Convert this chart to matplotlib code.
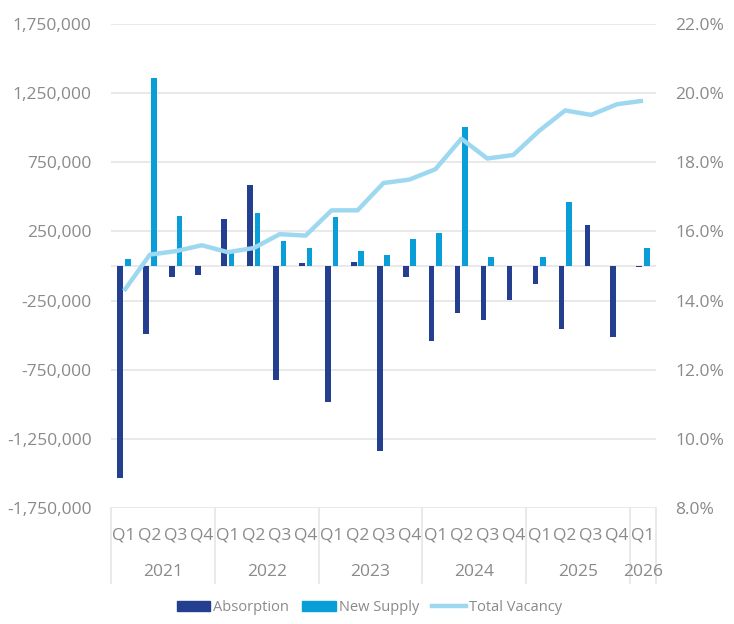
import matplotlib
matplotlib.use('Agg')
import matplotlib.pyplot as plt
import numpy as np
from matplotlib.lines import Line2D
from matplotlib.patches import Patch
from matplotlib.ticker import FuncFormatter

plt.rcParams['font.family'] = ['Open Sans', 'DejaVu Sans']

quarters = ['Q1', 'Q2', 'Q3', 'Q4'] * 5 + ['Q1']
years = ['2021', '2022', '2023', '2024', '2025', '2026']
absorption = [-1530000, -494000, -76000, -65000,
              341000, 588000, -823000, 20000,
              -984000, 32000, -1337000, -77000,
              -545000, -339000, -389000, -247000,
              -132000, -454000, 295000, -514000,
              -5000]
new_supply = [48000, 1361000, 363000, 0,
              91000, 382000, 183000, 132000,
              351000, 106000, 77000, 195000,
              238000, 1006000, 65000, 0,
              65000, 466000, 0, 0,
              127000]
total_vacancy = [14.28, 15.33, 15.43, 15.60,
                 15.40, 15.52, 15.92, 15.88,
                 16.61, 16.61, 17.40, 17.50,
                 17.80, 18.68, 18.11, 18.21,
                 18.91, 19.50, 19.37, 19.68,
                 19.78]

c_abs = '#243F8F'
c_sup = '#0A9ED9'
c_vac = '#9ED8F0'
c_text = '#8A8A8A'
c_grid = '#E3E3E3'

fig = plt.figure(figsize=(7.34, 6.24), dpi=100)
ax = fig.add_axes([111 / 734, 1 - 508 / 624, 545 / 734, 484 / 624])
ax2 = ax.twinx()

x = np.arange(len(quarters))
w = 0.22
ax.bar(x - 0.145, absorption, w, color=c_abs, zorder=3)
ax.bar(x + 0.145, new_supply, w, color=c_sup, zorder=3)
ax2.plot(x, total_vacancy, color=c_vac, lw=3.2, solid_capstyle='butt', zorder=4)

ax.set_xlim(-0.5, len(quarters) - 0.5)
ax.set_ylim(-1750000, 1750000)
ax.set_yticks(np.arange(-1750000, 1750001, 500000))
ax.yaxis.set_major_formatter(FuncFormatter(lambda v, p: f'{v:,.0f}'))
ax2.set_ylim(8, 22)
ax2.set_yticks(np.arange(8, 22.1, 2))
ax2.yaxis.set_major_formatter(FuncFormatter(lambda v, p: f'{v:.1f}%'))

for a in (ax, ax2):
    for s in a.spines.values():
        s.set_visible(False)
    a.tick_params(axis='y', length=0, labelsize=12.5, labelcolor=c_text, pad=14)
ax.set_xticks([])
ax.grid(axis='y', color=c_grid, lw=1.1, zorder=0)
ax.axhline(0, color=c_grid, lw=1.1, zorder=1)

# two-level category axis: quarters, then years with separators
trans = ax.get_xaxis_transform()
for i, q in enumerate(quarters):
    ax.text(i, -0.056, q, transform=trans, ha='center', va='center',
            fontsize=12.5, color=c_text)
bounds = list(range(0, len(quarters), 4)) + [len(quarters)]
for k, yr in enumerate(years):
    lo, hi = bounds[k], bounds[k + 1]
    ax.text((lo + hi - 1) / 2, -0.132, yr, transform=trans, ha='center',
            va='center', fontsize=12.5, color=c_text)
for b in bounds:
    ax.plot([b - 0.5, b - 0.5], [0, -0.155], transform=trans, color=c_grid,
            lw=1.1, clip_on=False)

handles = [Patch(color=c_abs, label='Absorption'),
           Patch(color=c_sup, label='New Supply'),
           Line2D([], [], color=c_vac, lw=3.2, label='Total Vacancy')]
leg = fig.legend(handles=handles, loc='center', bbox_to_anchor=(0.503, 0.026),
                 ncol=3, frameon=False, fontsize=10.5, handlelength=2.3,
                 handletextpad=0.2, columnspacing=0.9)
for t in leg.get_texts():
    t.set_color(c_text)

fig.savefig('out.png', dpi=100)
